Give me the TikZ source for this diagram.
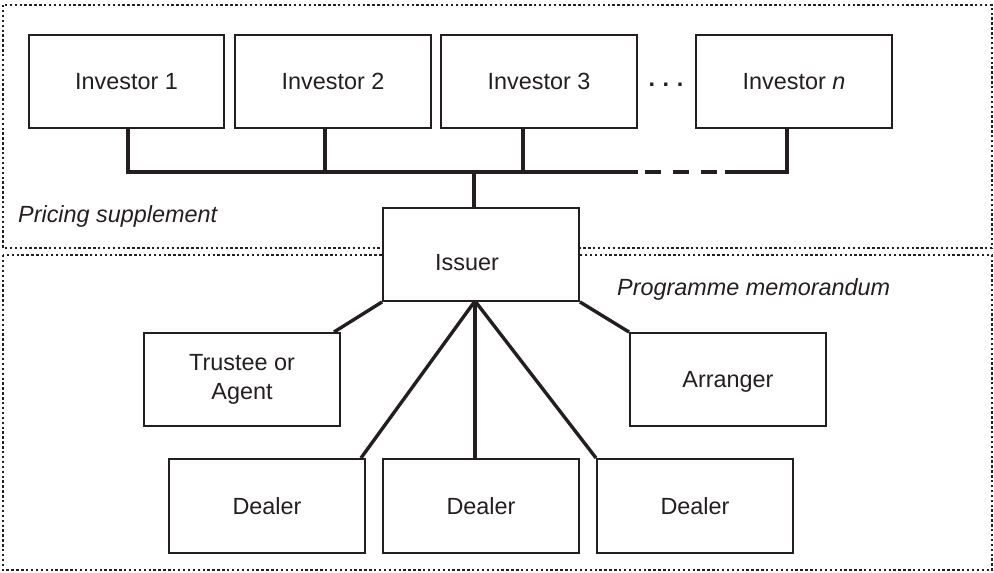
\documentclass[tikz,border=0pt]{standalone}
\usepackage{fontspec}
\setmainfont{Liberation Sans}
\usetikzlibrary{calc}
\definecolor{ink}{RGB}{35,31,32}
\begin{document}
\begin{tikzpicture}[x=1pt,y=-1pt,
  every node/.style={text=ink, font=\fontsize{23.4}{29}\selectfont},
  entity/.style={draw=ink, line width=1.9pt, fill=white, inner sep=0pt,
    minimum width=196pt, minimum height=93pt, align=center},
  oneline/.style={text height=16.8pt, text depth=0pt},
  link/.style={draw=ink, line width=3.4pt},
  region/.style={draw=ink, line width=2.6pt, dash pattern=on 2.4pt off 2.5pt},
  caption/.style={font=\fontsize{23.4}{29}\selectfont\itshape, anchor=base west, inner sep=0pt}]
\useasboundingbox (0,0) rectangle (994,573);

% the two document regions
\draw[region] (3,5) rectangle (992,248);
\draw[region] (3,255) rectangle (992,570);
\node[caption] (pricing) at (18,222) {Pricing supplement};
\node[caption] (programme) at (617,295) {Programme memorandum};

% investors
\node[entity, oneline, minimum width=195pt] (inv1) at (126.5,81.5) {Investor 1};
\node[entity, oneline] (inv2) at (333,81.5) {Investor 2};
\node[entity, oneline] (inv3) at (539,81.5) {Investor 3};
\node[entity, oneline] (invn) at (794,81.5) {Investor \textit{n}};
\node[anchor=base, inner sep=0pt] (dots) at (666,86) {\textbf{.\hspace{7.6pt}.\hspace{7.6pt}.}};

% issuer and parties
\node[entity] (issuer) at (481,254.5) {};
\node[anchor=base, inner sep=0pt] (issuerlabel) at (467,270) {Issuer};
\node[entity] (trustee) at (242,379.5) {Trustee or\\Agent};
\node[entity, oneline] (arranger) at (728,379.5) {Arranger};
\node[entity, oneline, minimum height=94pt] (dealer1) at (267,506) {Dealer};
\node[entity, oneline, minimum height=94pt] (dealer2) at (481,506) {Dealer};
\node[entity, oneline, minimum height=94pt] (dealer3) at (695,506) {Dealer};

% bus joining the investors to the issuer
\coordinate (b1) at (128,172);
\coordinate (b2) at (325,172);
\coordinate (b3) at (523,172);
\coordinate (bi) at (474,172);
\coordinate (bsolid) at (638,172);
\coordinate (bdash1) at (645,172);
\coordinate (bdash2) at (717,172);
\coordinate (bresume) at (725,172);
\coordinate (bn) at (787,172);
\draw[link] (inv1.south -| b1) -- (b1) -- (bsolid);
\draw[link] (inv2.south -| b2) -- (b2);
\draw[link] (inv3.south -| b3) -- (b3);
\draw[link, dash pattern=on 16pt off 12pt] (bdash1) -- (bdash2);
\draw[link] (bresume) -- (bn) -- (invn.south -| bn);
\draw[link] (bi) -- (issuer.north -| bi);

% issuer to the parties
\coordinate (fan) at (475,301);
\draw[link] (issuer.south west) -- ($(trustee.north east)+(-7,0)$);
\draw[link] (issuer.south east) -- (arranger.north west);
\draw[link] (fan) -- ($(dealer1.north east)+(-5,0)$);
\draw[link] (fan) -- (dealer2.north -| fan);
\draw[link] (fan) -- (dealer3.north west);
\end{tikzpicture}
\end{document}
